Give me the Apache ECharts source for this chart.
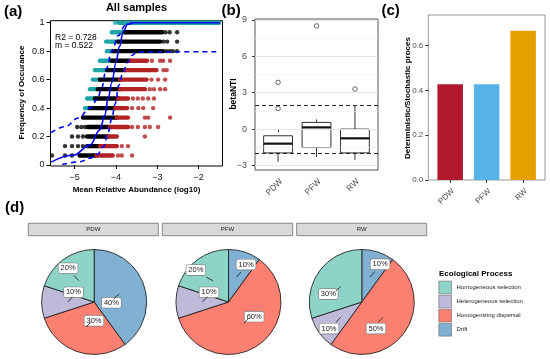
<!DOCTYPE html>
<html><head><meta charset="utf-8">
<script src="https://cdn.jsdelivr.net/npm/echarts@6/dist/echarts.min.js"></script>
<style>html,body{margin:0;padding:0;background:#fff}#c{width:550px;height:359px}</style>
</head><body><div id="c"></div><script>
// ================= DATA =================
// Panel (a): occurrence frequency vs mean relative abundance (log10)
// dense runs of points: [frequency, xStart, xEnd]
const cyanBands = [
  [1.0, -3.93, -1.50], [0.933, -4.10, -3.78], [0.867, -4.24, -3.95], [0.8, -4.22, -4.07],
  [0.733, -4.39, -4.10], [0.667, -4.51, -4.22], [0.6, -4.56, -4.39], [0.533, -4.63, -4.44],
  [0.467, -4.70, -4.51], [0.4, -4.75, -4.63]
];
const cyanDots = [[-4.02, 1.0]];
const blackBands = [
  [0.933, -3.78, -2.88], [0.867, -3.95, -2.93], [0.8, -4.07, -2.86], [0.733, -4.10, -3.66],
  [0.667, -4.22, -3.78], [0.6, -4.39, -3.90], [0.533, -4.44, -3.90], [0.467, -4.51, -3.95],
  [0.4, -4.63, -4.02], [0.333, -4.80, -3.98], [0.267, -4.68, -4.15], [0.2, -4.70, -4.19],
  [0.133, -4.70, -4.39], [0.067, -4.88, -4.50]
];
const blackDots = [
  [-2.80, 0.933], [-2.70, 0.933], [-2.52, 0.933],
  [-2.85, 0.867], [-2.76, 0.867], [-2.52, 0.867],
  [-2.78, 0.8], [-2.70, 0.8], [-2.62, 0.8], [-2.52, 0.8],
  [-4.94, 0.267], [-4.84, 0.267], [-4.75, 0.267],
  [-5.065, 0.2], [-4.92, 0.2], [-4.80, 0.2],
  [-5.235, 0.133], [-5.065, 0.133], [-4.92, 0.133], [-4.80, 0.133],
  [-5.55, 0.067], [-5.235, 0.067], [-5.065, 0.067]
];
const redBands = [
  [0.733, -3.66, -3.25], [0.667, -3.78, -3.02], [0.6, -3.90, -3.26], [0.533, -3.90, -3.30],
  [0.467, -3.95, -3.71], [0.4, -4.02, -3.73], [0.333, -3.98, -3.71], [0.267, -4.15, -3.71],
  [0.2, -4.19, -3.98], [0.133, -4.39, -3.98], [0.067, -4.47, -4.08]
];
const redDots = [
  [-3.13, 0.733], [-2.93, 0.733], [-2.86, 0.733], [-2.69, 0.733],
  [-2.85, 0.667], [-2.77, 0.667],
  [-3.14, 0.6], [-2.98, 0.6], [-2.81, 0.6],
  [-3.18, 0.533], [-3.08, 0.533], [-2.93, 0.533], [-2.81, 0.533],
  [-3.59, 0.467], [-3.47, 0.467], [-3.35, 0.467], [-3.22, 0.467], [-3.08, 0.467],
  [-3.61, 0.4], [-3.46, 0.4], [-3.34, 0.4], [-3.10, 0.4],
  [-3.30, 0.333], [-3.22, 0.333], [-2.69, 0.333],
  [-3.61, 0.267], [-3.47, 0.267], [-3.30, 0.267], [-3.18, 0.267], [-2.98, 0.267],
  [-3.30, 0.2],
  [-3.86, 0.133], [-3.71, 0.133],
  [-3.95, 0.067], [-3.86, 0.067], [-3.61, 0.067]
];
const fitSolid = [
  [-5.57, 0.02], [-5.03, 0.07], [-4.63, 0.14], [-4.39, 0.246], [-4.27, 0.35], [-4.19, 0.47],
  [-4.10, 0.58], [-4.00, 0.72], [-3.92, 0.83], [-3.82, 0.94], [-3.72, 0.99], [-3.60, 1.0], [-1.48, 1.0]
];
const fitUpper = [
  [-5.57, 0.227], [-5.23, 0.27], [-4.91, 0.33], [-4.63, 0.40], [-4.45, 0.46], [-4.35, 0.54],
  [-4.23, 0.68], [-4.10, 0.80], [-3.94, 0.91], [-3.78, 0.98], [-3.60, 1.0]
];
const fitLower = [
  [-5.30, 0.003], [-4.87, 0.023], [-4.63, 0.047], [-4.45, 0.075], [-4.30, 0.13], [-4.19, 0.23],
  [-4.10, 0.33], [-4.02, 0.43], [-3.93, 0.56], [-3.83, 0.65], [-3.72, 0.72], [-3.62, 0.77],
  [-3.50, 0.79], [-3.30, 0.796], [-1.48, 0.796]
];
const xTicksA = [-5, -4, -3, -2];
const yTicksA = [0, 0.2, 0.4, 0.6, 0.8, 1];
const statR2 = '0.728';
const statM = '0.522';

// Panel (b): betaNTI boxplots
const boxCats = ['PDW', 'PFW', 'RW'];
const boxMin = [-2.7, -2.3, -2.55];
const boxQ1 = [-1.96, -1.52, -1.96];
const boxMed = [-1.2, 0.14, -0.76];
const boxQ3 = [-0.55, 0.55, 0.0];
const boxMax = [-0.55, 0.8, 1.9];
const outlierCat = [1, 1, 2, 3];
const outlierVal = [3.85, 1.7, 8.5, 3.3];
const thresholds = [2, -2];
const yTicksB = [-3, 0, 3, 6, 9];
const gridMinorB = [-1.5, 1.5, 4.5, 7.5];

// Panel (c): deterministic / stochastic ratio
const ratioCats = ['PDW', 'PFW', 'RW'];
const ratioVals = [0.428, 0.428, 0.667];
const yTicksC = [0, 0.2, 0.4, 0.6];

// Panel (d): ecological process shares (%)
const siteNames = ['PDW', 'PFW', 'RW'];
const procNames = ['Homogeneous selection', 'Heterogeneous selection', 'Homogenizing dispersal', 'Drift'];
const homSel = [20, 20, 30];
const hetSel = [10, 10, 10];
const homDisp = [30, 60, 50];
const drift = [40, 10, 10];

// ================= STYLE / LAYOUT =================
const FONT = '"Liberation Sans", Arial, Helvetica, sans-serif';
const colCyan = '#1EA5A5', colRed = '#B22222', colBlack = '#000000', colBlue = '#0000FF';
const ratioColors = ['#B0182D', '#56B4E9', '#E69F00'];
const procColors = ['#8DD3C7', '#BEBADA', '#FB8072', '#80B1D3'];
const pieCenters = [[94.2, 302], [228.5, 302], [361.8, 302]];
const pieR = 52.5;
// label nudges (px) per site, in slice order Drift, HomDisp, HetSel, HomSel
const labelNudge = [
  [[-10.6, 9.7], [8.8, -9], [8.5, -9.7], [-8.9, -10]],
  [[8.5, -9.6], [8.5, -9], [9.8, -9.7], [-15.5, -8.3]],
  [[9.2, -10], [-9.5, 9.4], [-9.1, 9.4], [-9.8, 9.3]]
];
const labelHalf = [9.6, 4.6];
const strips = [[28.3, 158.3], [162.3, 292.7], [296.7, 426.7]];
const minus = v => String(v).replace('-', '\u2212');

function bandSeries(data, color) {
  return {
    type: 'custom', xAxisIndex: 0, yAxisIndex: 0, data: data, encode: {x: [1, 2], y: 0}, silent: true,
    renderItem: (params, api) => {
      const y = api.value(0), p1 = api.coord([api.value(1), y]), p2 = api.coord([api.value(2), y]);
      return {type: 'line', shape: {x1: p1[0], y1: p1[1], x2: p2[0], y2: p2[1]},
        style: {stroke: color, lineWidth: 4.4, lineCap: 'round'}};
    }
  };
}
function dotSeries(data, color) {
  return {type: 'scatter', xAxisIndex: 0, yAxisIndex: 0, data: data, symbol: 'circle', symbolSize: 4.4,
    itemStyle: {color: color}, silent: true};
}
function fitSeries(data, dashed) {
  return {type: 'line', xAxisIndex: 0, yAxisIndex: 0, data: data, showSymbol: false, smooth: 0.4,
    smoothMonotone: 'x', silent: true,
    lineStyle: {color: colBlue, width: 1.6, type: dashed ? [5, 4] : 'solid'}, z: 5};
}

const series = [];
series.push(bandSeries(cyanBands, colCyan), bandSeries(blackBands, colBlack), bandSeries(redBands, colRed));
series.push(dotSeries(cyanDots, colCyan), dotSeries(blackDots, colBlack), dotSeries(redDots, colRed));
series.push(fitSeries(fitSolid, false), fitSeries(fitUpper, true), fitSeries(fitLower, true));

// panel b
const boxData = boxCats.map((c, i) => [i + 1, boxMin[i], boxQ1[i], boxMed[i], boxQ3[i], boxMax[i]]);
series.push({
  type: 'custom', xAxisIndex: 1, yAxisIndex: 1, data: boxData, encode: {x: 0, y: [1, 5]}, silent: true, z: 4,
  renderItem: (params, api) => {
    const x = api.value(0), hw = 0.375;
    const c = v => api.coord([x, v]);
    const a = api.coord([x - hw, api.value(4)]), b = api.coord([x + hw, api.value(2)]);
    const m1 = api.coord([x - hw, api.value(3)]), m2 = api.coord([x + hw, api.value(3)]);
    const st = {stroke: '#333', lineWidth: 1, fill: null};
    return {type: 'group', children: [
      {type: 'line', shape: {x1: c(api.value(1))[0], y1: c(api.value(1))[1], x2: c(api.value(2))[0], y2: c(api.value(2))[1]}, style: st},
      {type: 'line', shape: {x1: c(api.value(4))[0], y1: c(api.value(4))[1], x2: c(api.value(5))[0], y2: c(api.value(5))[1]}, style: st},
      {type: 'rect', shape: {x: a[0], y: a[1], width: b[0] - a[0], height: b[1] - a[1]}, style: {stroke: '#333', lineWidth: 1, fill: '#fff'}},
      {type: 'line', shape: {x1: m1[0], y1: m1[1], x2: m2[0], y2: m2[1]}, style: {stroke: '#111', lineWidth: 2.2}}
    ]};
  }
});
series.push({
  type: 'scatter', xAxisIndex: 1, yAxisIndex: 1, data: outlierCat.map((c, i) => [c, outlierVal[i]]),
  symbol: 'circle', symbolSize: 4.5, itemStyle: {color: '#fff', borderColor: '#333', borderWidth: 0.9}, silent: true, z: 6,
  markLine: {silent: true, symbol: 'none', animation: false, label: {show: false},
    data: gridMinorB.map(v => ({yAxis: v, lineStyle: {color: '#EFEFEF', width: 0.6, type: 'solid'}}))
      .concat(yTicksB.map(v => ({yAxis: v, lineStyle: {color: '#E6E6E6', width: 1, type: 'solid'}})))
      .concat(thresholds.map(v => ({yAxis: v, lineStyle: {color: '#222', width: 1, type: [4, 3]}})))
  }
});

// panel c
series.push({
  type: 'custom', xAxisIndex: 2, yAxisIndex: 2, data: ratioVals.map((v, i) => [i + 1, v]), silent: true,
  renderItem: (params, api) => {
    const x = api.value(0), v = api.value(1);
    const a = api.coord([x - 0.35, v]), b = api.coord([x + 0.35, 0]);
    return {type: 'rect', shape: {x: a[0], y: a[1], width: b[0] - a[0], height: b[1] - a[1]},
      style: {fill: ratioColors[params.dataIndex]}};
  }
});

// panel d pies
const leaderLines = [];
siteNames.forEach((s, si) => {
  const vals = [drift[si], homDisp[si], hetSel[si], homSel[si]];
  const names = [procNames[3], procNames[2], procNames[1], procNames[0]];
  const cols = [procColors[3], procColors[2], procColors[1], procColors[0]];
  series.push({
    type: 'pie', name: s, center: pieCenters[si], radius: pieR, startAngle: 90, clockwise: true, silent: true,
    emphasis: {disabled: true},
    data: vals.map((v, k) => ({name: names[k], value: v, itemStyle: {color: cols[k]}})),
    itemStyle: {borderColor: '#111', borderWidth: 0.8},
    label: {show: true, position: 'inside', formatter: p => p.value + '%', fontFamily: FONT, fontSize: 7.5,
      color: '#222', backgroundColor: '#fff', borderColor: '#777', borderWidth: 0.6, borderRadius: 1.5,
      padding: [1.5, 2, 0.5, 2], lineHeight: 8},
    labelLine: {show: false},
    labelLayout: p => ({dx: labelNudge[si][p.dataIndex][0], dy: labelNudge[si][p.dataIndex][1]})
  });
  // short leader segments from slice anchor (half radius, mid-angle) to the nudged label box
  const total = vals.reduce((a, b) => a + b, 0);
  let cum = 0;
  vals.forEach((v, k) => {
    const th = (cum + v / 2) / total * 2 * Math.PI;
    cum += v;
    const px = pieCenters[si][0] + pieR / 2 * Math.sin(th), py = pieCenters[si][1] - pieR / 2 * Math.cos(th);
    const [dx, dy] = labelNudge[si][k];
    const t = Math.max(0, 1 - labelHalf[0] / Math.abs(dx), 1 - labelHalf[1] / Math.abs(dy));
    leaderLines.push({type: 'line', silent: true, z: 50,
      shape: {x1: px, y1: py, x2: px + t * dx, y2: py + t * dy}, style: {stroke: '#111', lineWidth: 0.8}});
  });
});

const txt = (text, x, y, size, bold, extra) => Object.assign({
  type: 'text', x: x, y: y, silent: true,
  style: Object.assign({text: text, font: (bold ? 'bold ' : '') + size + 'px ' + FONT, fill: '#000',
    textAlign: 'left', textVerticalAlign: 'middle', align: 'left', verticalAlign: 'middle'}, extra && extra.style || {})
}, extra && extra.el || {});
const center = {style: {textAlign: 'center', align: 'center'}};
const vert = {style: {textAlign: 'center', align: 'center'}, el: {rotation: Math.PI / 2}};

const graphics = [
  txt('(a)', 4, 12, 15, true),
  txt('All samples', 136.5, 8, 11, true, center),
  txt('R2 = ' + statR2, 55, 37.5, 8.5, false),
  txt('m = ' + statM, 55, 45.5, 8.5, false),
  txt('Frequency of Occurance', 21.7, 92.5, 8, true, vert),
  txt('Mean Relative Abundance (log10)', 136.5, 190, 8, true, center),
  txt('(b)', 221.5, 11, 15, true),
  txt('betaNTI', 234, 94, 8.5, true, vert),
  txt('(c)', 381.5, 11, 15, true),
  txt('Deterministic/Stochastic proces', 408, 98, 8, true, vert),
  txt('(d)', 5, 208, 15, true),
  txt('Ecological Process', 439, 273.3, 8, true)
].concat(leaderLines);
strips.forEach((s, i) => {
  graphics.push({type: 'rect', silent: true, shape: {x: s[0], y: 223.3, width: s[1] - s[0], height: 12.4},
    style: {fill: '#D9D9D9', stroke: '#6E6E6E', lineWidth: 0.8}});
  graphics.push(txt(siteNames[i], (s[0] + s[1]) / 2, 229.5, 6, false, {style: {textAlign: 'center', align: 'center', fill: '#1A1A1A'}}));
});

const gridBorder = c => ({show: true, borderColor: c, borderWidth: 1, backgroundColor: 'transparent'});
const catLabel = (cats, size) => ({customValues: [1, 2, 3], formatter: v => cats[Math.round(v) - 1], rotate: 45,
  fontSize: size, color: '#4D4D4D', margin: 7, verticalAlign: 'top'});
const option = {
  animation: false,
  textStyle: {fontFamily: FONT},
  grid: [
    Object.assign({left: 50.5, top: 20.7, width: 172, height: 145.3}, gridBorder('#000')),
    Object.assign({left: 255, top: 19, width: 123, height: 151}, gridBorder('#555')),
    Object.assign({left: 428.3, top: 15, width: 116.7, height: 165}, gridBorder('#999'))
  ],
  xAxis: [
    {gridIndex: 0, type: 'value', min: -5.586, max: -1.42, axisLine: {show: false}, splitLine: {show: false},
      axisTick: {customValues: xTicksA, length: 4, lineStyle: {color: '#000'}},
      axisLabel: {customValues: xTicksA, formatter: minus, fontSize: 9, color: '#111', margin: 7}},
    {gridIndex: 1, type: 'value', min: 0.4, max: 3.6, axisLine: {show: false}, splitLine: {show: false},
      axisTick: {customValues: [1, 2, 3], length: 3, lineStyle: {color: '#333'}},
      axisLabel: catLabel(boxCats, 8.5)},
    {gridIndex: 2, type: 'value', min: 0.4, max: 3.6, axisLine: {show: false}, splitLine: {show: false},
      axisTick: {customValues: [1, 2, 3], length: 3, lineStyle: {color: '#333'}},
      axisLabel: catLabel(ratioCats, 8)}
  ],
  yAxis: [
    {gridIndex: 0, type: 'value', min: -0.007, max: 1.014, axisLine: {show: false}, splitLine: {show: false},
      axisTick: {customValues: yTicksA, length: 4, lineStyle: {color: '#000'}},
      axisLabel: {customValues: yTicksA, fontSize: 9, color: '#111', margin: 6}},
    {gridIndex: 1, type: 'value', min: -3.37, max: 9.07, axisLine: {show: false}, splitLine: {show: false},
      axisTick: {customValues: yTicksB, length: 3, lineStyle: {color: '#333'}},
      axisLabel: {customValues: yTicksB, formatter: minus, fontSize: 9, color: '#4D4D4D', margin: 8}},
    {gridIndex: 2, type: 'value', min: 0, max: 0.737, axisLine: {show: false}, splitLine: {show: false},
      axisTick: {customValues: yTicksC, length: 3, lineStyle: {color: '#333'}},
      axisLabel: {customValues: yTicksC, formatter: v => v.toFixed(1), fontSize: 8, color: '#4D4D4D', margin: 5}}
  ],
  legend: {data: procNames, orient: 'vertical', left: 438.5, top: 280.8, itemWidth: 12.7, itemHeight: 12.7, itemGap: 0.8,
    icon: 'rect', selectedMode: false, padding: 0, itemStyle: {borderColor: '#666', borderWidth: 0.6},
    textStyle: {fontSize: 6, color: '#222', fontFamily: FONT}},
  graphic: graphics,
  series: series
};
const chart = echarts.init(document.getElementById('c'), null, {renderer: 'canvas'});
chart.setOption(option);
</script></body></html>
